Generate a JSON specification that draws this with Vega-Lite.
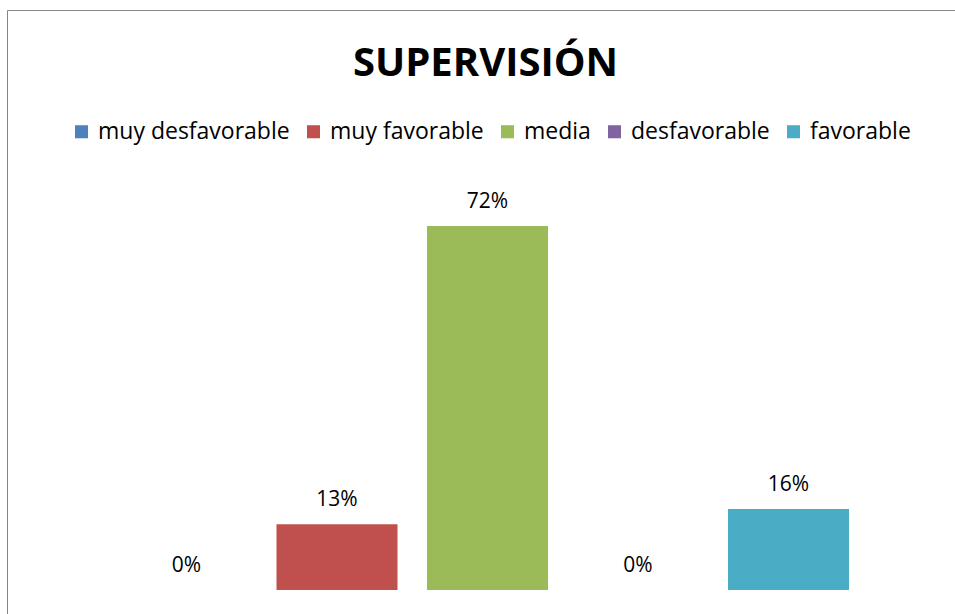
{
  "$schema": "https://vega.github.io/schema/vega-lite/v6.json",
  "autosize": {"type": "none"},
  "padding": {"left": 7, "top": 10, "right": 0, "bottom": 0},
  "width": 949,
  "height": 605,
  "background": "white",
  "title": {
    "text": "SUPERVISIÓN",
    "font": "Open Sans",
    "fontSize": 40,
    "fontWeight": "bold",
    "color": "#000000",
    "anchor": "middle",
    "baseline": "alphabetic",
    "offset": -66,
    "dy": 40,
    "dx": 4
  },
  "data": {
    "values": [
      {"categoria": "muy desfavorable", "valor": 0},
      {"categoria": "muy favorable", "valor": 0.13},
      {"categoria": "media", "valor": 0.72},
      {"categoria": "desfavorable", "valor": 0},
      {"categoria": "favorable", "valor": 0.16}
    ]
  },
  "encoding": {
    "x": {
      "field": "categoria",
      "type": "nominal",
      "sort": null,
      "axis": null,
      "scale": {"paddingInner": 0.196, "paddingOuter": 0.7508, "align": 0.5265}
    },
    "y": {
      "field": "valor",
      "type": "quantitative",
      "axis": null,
      "scale": {"domain": [-0.04945, 1.1472], "nice": false, "zero": false}
    }
  },
  "layer": [
    {
      "mark": {"type": "bar"},
      "encoding": {
        "y2": {"datum": 0},
        "color": {
          "field": "categoria",
          "type": "nominal",
          "sort": null,
          "scale": {
            "domain": ["muy desfavorable", "muy favorable", "media", "desfavorable", "favorable"],
            "range": ["#4F81BD", "#C0504D", "#9BBB59", "#8064A2", "#4BACC6"]
          },
          "legend": {
            "title": null,
            "orient": "none",
            "direction": "horizontal",
            "legendX": 63,
            "legendY": 110,
            "symbolType": "square",
            "symbolSize": 170,
            "symbolStrokeWidth": 0,
            "symbolOpacity": 1,
            "labelFont": "Open Sans",
            "labelFontSize": 23,
            "labelColor": "#000000",
            "labelOffset": 5,
            "columnPadding": 12,
            "labelLimit": 400
          }
        }
      }
    },
    {
      "mark": {
        "type": "text",
        "font": "Open Sans",
        "fontSize": 21,
        "color": "#000000",
        "baseline": "alphabetic",
        "align": "center",
        "dy": -18
      },
      "encoding": {
        "text": {"field": "valor", "type": "quantitative", "format": ".0%"}
      }
    }
  ],
  "config": {
    "view": {"stroke": "#868686", "strokeWidth": 1}
  }
}
